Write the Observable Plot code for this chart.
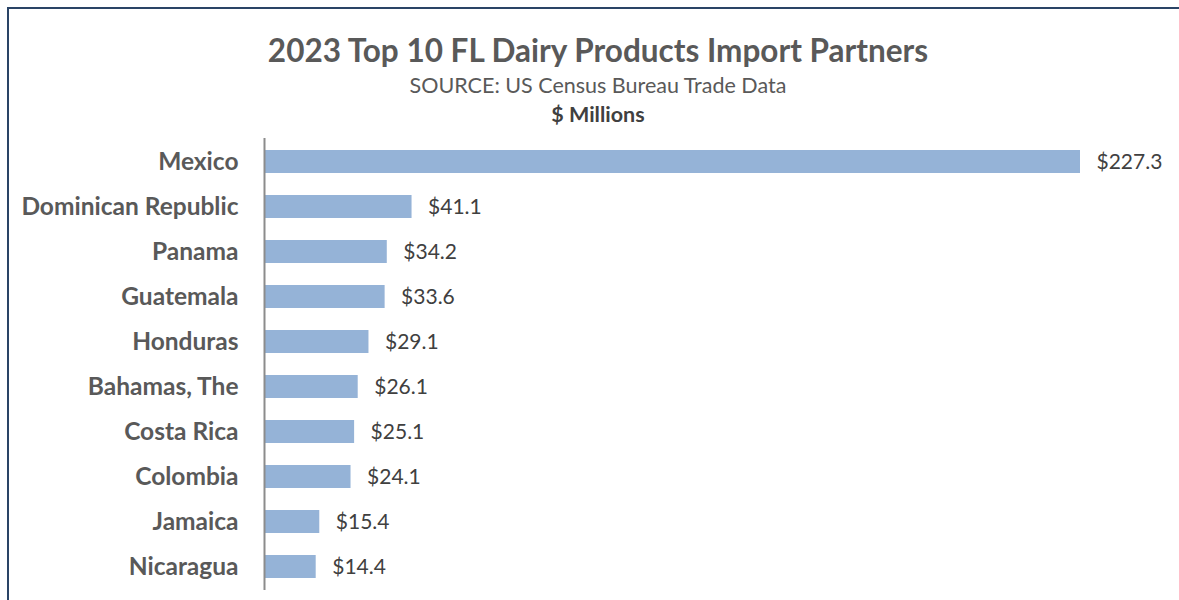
<!DOCTYPE html>
<html>
<head>
<meta charset="utf-8">
<script src="https://cdn.jsdelivr.net/npm/d3@7"></script>
<script src="https://cdn.jsdelivr.net/npm/@observablehq/plot@0.6"></script>
<style>
  html, body { margin: 0; padding: 0; background: #fff; }
  #frame { position: absolute; left: 7px; top: 7px; width: 1172px; height: 593px;
           border-left: 2.5px solid #2a4466; border-top: 2.5px solid #2a4466; box-sizing: border-box; }
  .t { position: absolute; left: 0; width: 1196px; text-align: center; color: #595959; font-family: Lato, "Open Sans", sans-serif; white-space: nowrap; }
  #title { top: 31px; font-size: 31.5px; font-weight: bold; }
  #sub { top: 72px; font-size: 21.5px; }
  #unit { top: 101px; font-size: 21.5px; font-weight: bold; color: #404040; }
  #chart { position: absolute; left: 0; top: 130px; }
</style>
</head>
<body>
<div id="frame"></div>
<div class="t" id="title">2023 Top 10 FL Dairy Products Import Partners</div>
<div class="t" id="sub">SOURCE: US Census Bureau Trade Data</div>
<div class="t" id="unit">$ Millions</div>
<div id="chart"></div>
<script>
const countries = ["Mexico", "Dominican Republic", "Panama", "Guatemala", "Honduras",
                   "Bahamas, The", "Costa Rica", "Colombia", "Jamaica", "Nicaragua"];
const values = [227.3, 41.1, 34.2, 33.6, 29.1, 26.1, 25.1, 24.1, 15.4, 14.4];

const data = countries.map((c, i) => ({country: c, value: values[i]}));

const chart = Plot.plot({
  width: 1179,
  height: 470,
  marginLeft: 264,
  marginRight: 99,
  marginTop: 8,
  marginBottom: 10,
  style: {fontFamily: "Lato, 'Open Sans', sans-serif", background: "transparent", overflow: "visible"},
  x: {domain: [0, 227.3], axis: null},
  y: {domain: countries, paddingInner: 0.5, paddingOuter: 0.25, label: null},
  marks: [
    Plot.barX(data, {x: "value", y: "country", fill: "#95b3d7"}),
    Plot.ruleX([0], {stroke: "#8c8c8c", strokeWidth: 2}),
    Plot.axisY({tickSize: 0, tickPadding: 26, fontSize: 24.5, fontWeight: "bold", fill: "#595959", label: null}),
    Plot.text(data, {x: "value", y: "country", text: d => "$" + d.value.toFixed(1),
      textAnchor: "start", dx: 16, fontSize: 21, fill: "#404040"})
  ]
});
document.getElementById("chart").appendChild(chart);
</script>
</body>
</html>
